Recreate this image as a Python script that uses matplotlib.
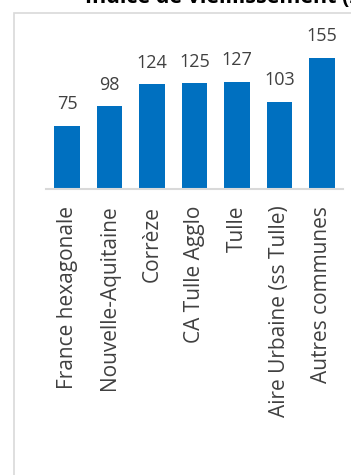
import matplotlib.pyplot as plt
from matplotlib.patches import Rectangle

# data
territoires = ['France hexagonale', 'Nouvelle-Aquitaine', 'Corrèze', 'CA Tulle Agglo',
               'Tulle', 'Aire Urbaine (ss Tulle)', 'Autres communes']
indice = [75, 98, 124, 125, 127, 103, 155]

W, H = 351, 475
fig = plt.figure(figsize=(W / 100, H / 100), dpi=100)
plt.rcParams['font.family'] = ['Open Sans', 'DejaVu Sans']

# chart frame (light grey, runs off the right and bottom edges)
fig.add_artist(Rectangle((14.5 / W, -0.1), 1.0, 1 - 12.5 / H + 0.1, transform=fig.transFigure,
                         fill=False, edgecolor='#d9d9d9', linewidth=1.2))

# title, cut off by the top edge as in the source picture
fig.text(85 / W, 1 - 3 / H, 'Indice de vieillissement (2017)', fontsize=15.5,
         fontweight='bold', color='#000000', va='baseline', ha='left')

ax = fig.add_axes([46 / W, 1 - 189 / H, (343 - 46) / W, 152 / H])
x = range(len(territoires))
ax.bar(x, indice, width=0.6, color='#0070c0')
ax.set_xlim(-0.5, len(territoires) - 0.5)
ax.set_ylim(0, 180)

for xi, v in zip(x, indice):
    ax.annotate(str(v), (xi, v), xytext=(0, 12), textcoords='offset points',
                ha='center', va='baseline', fontsize=13, color='#404040',
                annotation_clip=False)

for s in ['top', 'right', 'left']:
    ax.spines[s].set_visible(False)
ax.spines['bottom'].set_color('#d9d9d9')
ax.spines['bottom'].set_linewidth(1.5)
ax.set_yticks([])
ax.set_xticks(list(x))
ax.set_xticklabels(territoires, rotation=90, fontsize=15, color='#404040')
ax.tick_params(axis='x', length=0, pad=12)

fig.savefig('out.png', dpi=100)
